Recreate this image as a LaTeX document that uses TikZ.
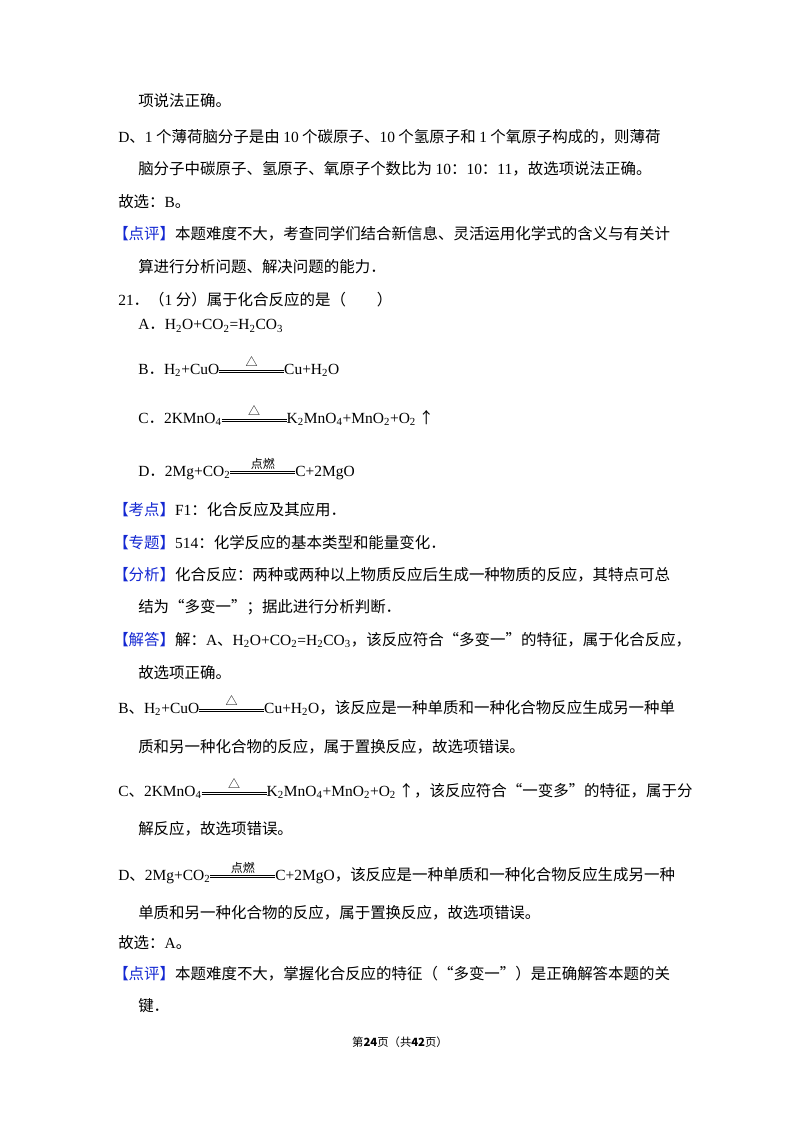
\documentclass[tikz,border=0pt]{standalone}
\usepackage{fontspec}
\usepackage{amsmath}
\setmainfont{Noto Sans CJK SC}
\newfontfamily\tms{Liberation Serif}
\newcommand\f[1]{{\tms #1}}
\newcommand\sub[1]{\textsubscript{\tms #1}}
\newcommand\yld[2]{\ensuremath{\overset{\text{\fontsize{9}{9}\selectfont #1}}{\rule[0.25ex]{#2}{0.5pt}\hspace{-#2}\rule[0.5ex]{#2}{0.5pt}}}}
\definecolor{tagblue}{RGB}{20,40,210}
\newcommand\hdtag[1]{\textcolor{tagblue}{【#1】}}
\begin{document}
\begin{tikzpicture}[x=0.75pt,y=0.75pt,
  every node/.style={anchor=west,inner sep=0pt,font=\fontsize{11.6}{13}\selectfont},
  foot/.style={anchor=center,font=\fontsize{8.5}{10}\selectfont}]
\useasboundingbox (0,0) rectangle (800,-1132);
\fill[white] (0,0) rectangle (800,-1132);
% previous question, end
\node (l1) at (138,-101) {项说法正确。};
\node (l2) at (118,-137) {\f{D}、\f{1} 个薄荷脑分子是由 \f{10} 个碳原子、\f{10} 个氢原子和 \f{1} 个氧原子构成的，则薄荷};
\node (l3) at (138,-169) {脑分子中碳原子、氢原子、氧原子个数比为 \f{10}：\f{10}：\f{11}，故选项说法正确。};
\node (l4) at (118,-202) {故选：\f{B}。};
\node (l5) at (113,-234) {\hdtag{点评}本题难度不大，考查同学们结合新信息、灵活运用化学式的含义与有关计};
\node (l6) at (138,-267) {算进行分析问题、解决问题的能力．};
% question 21
\node (q) at (118,-300) {\f{21}．（\f{1} 分）属于化合反应的是（\quad\quad）};
\node (oa) at (138,-326) {\f{A}．\f{H\sub{2}O+CO\sub{2}=H\sub{2}CO\sub{3}}};
\node (ob) at (138,-366) {\f{B}．\f{H\sub{2}+CuO}\yld{△}{4.2em}\f{Cu+H\sub{2}O}};
\node (oc) at (138,-415) {\f{C}．\f{2KMnO\sub{4}}\yld{△}{4.2em}\f{K\sub{2}MnO\sub{4}+MnO\sub{2}+O\sub{2}}\,↑};
\node (od) at (138,-468) {\f{D}．\f{2Mg+CO\sub{2}}\yld{点燃}{4.2em}\f{C+2MgO}};
% analysis
\node (k1) at (113,-510) {\hdtag{考点}\f{F1}：化合反应及其应用．};
\node (k2) at (113,-543) {\hdtag{专题}\f{514}：化学反应的基本类型和能量变化．};
\node (k3) at (113,-575) {\hdtag{分析}化合反应：两种或两种以上物质反应后生成一种物质的反应，其特点可总};
\node (k4) at (138,-607) {结为“多变一”；据此进行分析判断．};
\node (s1) at (113,-640) {\hdtag{解答}解：\f{A}、\f{H\sub{2}O+CO\sub{2}=H\sub{2}CO\sub{3}}，该反应符合“多变一”的特征，属于化合反应，};
\node (s2) at (138,-673) {故选项正确。};
\node (s3) at (118,-705) {\f{B}、\f{H\sub{2}+CuO}\yld{△}{4.2em}\f{Cu+H\sub{2}O}，该反应是一种单质和一种化合物反应生成另一种单};
\node (s4) at (138,-747) {质和另一种化合物的反应，属于置换反应，故选项错误。};
\node (s5) at (118,-788) {\f{C}、\f{2KMnO\sub{4}}\yld{△}{4.2em}\f{K\sub{2}MnO\sub{4}+MnO\sub{2}+O\sub{2}}\,↑，该反应符合“一变多”的特征，属于分};
\node (s6) at (138,-829) {解反应，故选项错误。};
\node (s7) at (118,-872) {\f{D}、\f{2Mg+CO\sub{2}}\yld{点燃}{4.2em}\f{C+2MgO}，该反应是一种单质和一种化合物反应生成另一种};
\node (s8) at (138,-913) {单质和另一种化合物的反应，属于置换反应，故选项错误。};
\node (s9) at (118,-943) {故选：\f{A}。};
\node (p1) at (113,-974) {\hdtag{点评}本题难度不大，掌握化合反应的特征（“多变一”）是正确解答本题的关};
\node (p2) at (138,-1006) {键．};
% footer
\node[foot] (ft) at (400,-1042) {第\textbf{24}页（共\textbf{42}页）};
\end{tikzpicture}
\end{document}
